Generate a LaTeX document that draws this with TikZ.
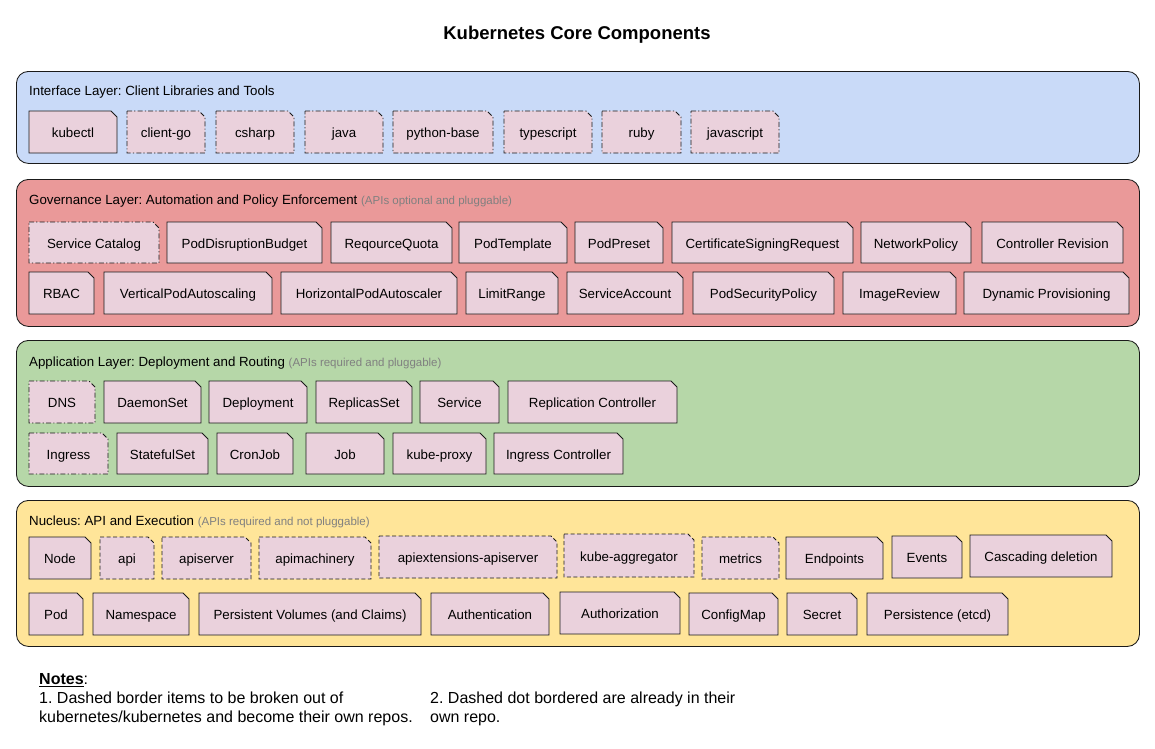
\documentclass[tikz,border=0pt]{standalone}
\usepackage{fontspec}
\setmainfont{Liberation Sans}
\frenchspacing
\definecolor{ifill}{HTML}{C9DAF8}
\definecolor{gfill}{HTML}{EA9999}
\definecolor{afill}{HTML}{B6D7A8}
\definecolor{nfill}{HTML}{FFE599}
\definecolor{itemfill}{HTML}{EAD1DC}
\definecolor{subgray}{HTML}{808080}
\definecolor{edge}{HTML}{1A1A1A}
\tikzset{
  layer/.style={draw=edge, line width=0.85pt, rounded corners=12pt, inner sep=0pt, anchor=north west},
  comp/.style={draw=edge, line width=0.8pt, fill=itemfill, line join=miter},
  dashdot/.style={dash pattern=on 5pt off 2.2pt on 1.2pt off 2.2pt},
  dashb/.style={dash pattern=on 4pt off 2.5pt},
  plain/.style={},
  ctext/.style={font=\fontsize{13.3}{16}\selectfont, inner sep=0pt, text height=9.6pt, text depth=2.7pt, yshift=-2.3pt},
  ltitle/.style={font=\fontsize{13.3}{16}\selectfont, inner sep=0pt, anchor=west},
  notetext/.style={font=\fontsize{16}{19}\selectfont, inner sep=0pt, anchor=north west, align=left},
}
\newcommand\kcomp[7]{%
  \draw[comp,#1] (#3,#4) -- ({#5-6},#4) -- (#5,{#4+6}) -- (#5,#6) -- (#3,#6) -- cycle;
  \node[ctext] (#2) at ({(#3+#5)/2},{(#4+#6)/2}) {#7};}
\newcommand\subnote[1]{{\fontsize{11.5}{14}\selectfont\color{subgray}#1}}
\begin{document}
\begin{tikzpicture}[x=1pt,y=-1pt]
\fill[white] (0,0) rectangle (1155,748);
\useasboundingbox (0,0) rectangle (1155,748);

\node[font=\bfseries\fontsize{18.5}{22}\selectfont, inner sep=0pt] (title) at (577,35) {Kubernetes Core Components};

% Layers
\node[layer, fill=ifill, minimum width=1123pt, minimum height=92pt] (L1) at (16,71) {};
\node[layer, fill=gfill, minimum width=1123pt, minimum height=147pt] (L2) at (16,179) {};
\node[layer, fill=afill, minimum width=1123pt, minimum height=146pt] (L3) at (16,340) {};
\node[layer, fill=nfill, minimum width=1123pt, minimum height=146pt] (L4) at (16,500) {};

\node[ltitle] (t1) at (29,92) {Interface Layer: Client Libraries and Tools};
\node[ltitle] (t2) at (29,201) {Governance Layer: Automation and Policy Enforcement \subnote{(APIs optional and pluggable)}};
\node[ltitle] (t3) at (29,363) {Application Layer: Deployment and Routing \subnote{(APIs required and pluggable)}};
\node[ltitle] (t4) at (29,522) {Nucleus: API and Execution \subnote{(APIs required and not pluggable)}};

% Interface
\kcomp{plain}{kubectl}{29}{111}{117}{153}{kubectl}
\kcomp{dashdot}{clientgo}{127}{111}{205}{153}{client-go}
\kcomp{dashdot}{csharp}{216}{111}{294}{153}{csharp}
\kcomp{dashdot}{java}{305}{111}{383}{153}{java}
\kcomp{dashdot}{pybase}{393}{111}{493}{153}{python-base}
\kcomp{dashdot}{tscript}{504}{111}{592}{153}{typescript}
\kcomp{dashdot}{ruby}{602}{111}{681}{153}{ruby}
\kcomp{dashdot}{jscript}{691}{111}{779}{153}{javascript}

% Governance row 1
\kcomp{dashdot}{svccat}{29}{222}{159}{263}{Service Catalog}
\kcomp{plain}{pdb}{167}{222}{322}{263}{PodDisruptionBudget}
\kcomp{plain}{rq}{331}{222}{452}{263}{ReqourceQuota}
\kcomp{plain}{podtpl}{459}{222}{567}{263}{PodTemplate}
\kcomp{plain}{podpreset}{575}{222}{663}{263}{PodPreset}
\kcomp{plain}{csr}{672}{222}{853}{263}{CertificateSigningRequest}
\kcomp{plain}{netpol}{861}{222}{971}{263}{NetworkPolicy}
\kcomp{plain}{ctrlrev}{982}{222}{1123}{263}{Controller Revision}
% Governance row 2
\kcomp{plain}{rbac}{29}{272}{94}{314}{RBAC}
\kcomp{plain}{vpa}{104}{272}{272}{314}{VerticalPodAutoscaling}
\kcomp{plain}{hpa}{281}{272}{457}{314}{HorizontalPodAutoscaler}
\kcomp{plain}{limitrange}{466}{272}{558}{314}{LimitRange}
\kcomp{plain}{svcacct}{567}{272}{683}{314}{ServiceAccount}
\kcomp{plain}{psp}{693}{272}{834}{314}{PodSecurityPolicy}
\kcomp{plain}{imgrev}{843}{272}{956}{314}{ImageReview}
\kcomp{plain}{dynprov}{964}{272}{1129}{314}{Dynamic Provisioning}

% Application row 1
\kcomp{dashdot}{dns}{29}{381}{95}{423}{DNS}
\kcomp{plain}{daemonset}{104}{381}{201}{423}{DaemonSet}
\kcomp{plain}{deployment}{209}{381}{307}{423}{Deployment}
\kcomp{plain}{replicaset}{316}{381}{412}{423}{ReplicasSet}
\kcomp{plain}{service}{420}{381}{499}{423}{Service}
\kcomp{plain}{replctrl}{508}{381}{677}{423}{Replication Controller}
% Application row 2
\kcomp{dashdot}{ingress}{29}{433}{108}{474}{Ingress}
\kcomp{plain}{statefulset}{117}{433}{208}{474}{StatefulSet}
\kcomp{plain}{cronjob}{217}{433}{293}{474}{CronJob}
\kcomp{plain}{job}{306}{433}{384}{474}{Job}
\kcomp{plain}{kubeproxy}{393}{433}{486}{474}{kube-proxy}
\kcomp{plain}{ingctrl}{494}{433}{623}{474}{Ingress Controller}

% Nucleus row 1
\kcomp{plain}{node}{29}{537}{91}{579}{Node}
\kcomp{dashb}{api}{100}{537}{154}{579}{api}
\kcomp{dashb}{apiserver}{162}{537}{251}{579}{apiserver}
\kcomp{dashb}{apimach}{259}{537}{371}{579}{apimachinery}
\kcomp{dashb}{apiext}{379}{536}{557}{578}{apiextensions-apiserver}
\kcomp{dashb}{kubeagg}{564}{534}{694}{577}{kube-aggregator}
\kcomp{dashb}{metrics}{702}{537}{779}{579}{metrics}
\kcomp{plain}{endpoints}{786}{537}{883}{579}{Endpoints}
\kcomp{plain}{events}{892}{536}{962}{578}{Events}
\kcomp{plain}{cascade}{970}{535}{1112}{577}{Cascading deletion}
% Nucleus row 2
\kcomp{plain}{pod}{29}{593}{83}{635}{Pod}
\kcomp{plain}{namespace}{93}{593}{189}{635}{Namespace}
\kcomp{plain}{pv}{199}{593}{421}{635}{Persistent Volumes (and Claims)}
\kcomp{plain}{authn}{431}{593}{549}{635}{Authentication}
\kcomp{plain}{authz}{560}{592}{680}{634}{Authorization}
\kcomp{plain}{configmap}{689}{593}{778}{635}{ConfigMap}
\kcomp{plain}{secret}{787}{593}{857}{635}{Secret}
\kcomp{plain}{etcd}{867}{593}{1008}{635}{Persistence (etcd)}

% Notes
\node[notetext] (notes) at (39,673) {\textbf{\underline{Notes}}:\\1. Dashed border items to be broken out of\\kubernetes/kubernetes and become their own repos.};
\node[notetext] (note2) at (430,692) {2. Dashed dot bordered are already in their\\own repo.};
\end{tikzpicture}
\end{document}
